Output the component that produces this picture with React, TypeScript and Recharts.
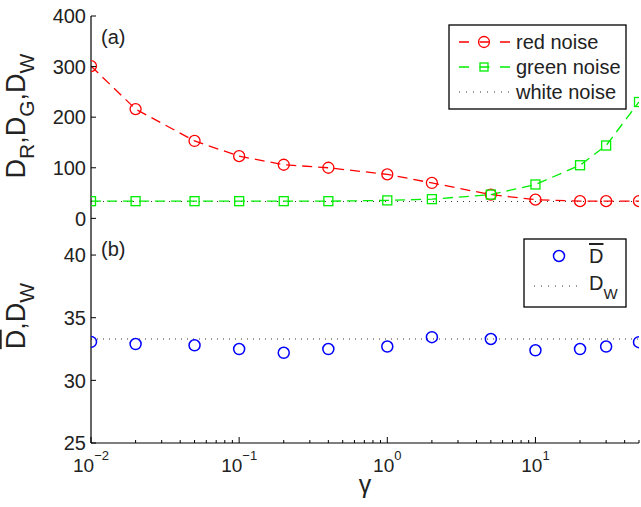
import React from 'react';
import { ComposedChart, Line, Scatter, XAxis, YAxis, ReferenceLine } from 'recharts';

// ---------- data ----------
const gammaValues = [0.01, 0.02, 0.05, 0.1, 0.2, 0.4, 1, 2, 5, 10, 20, 30, 50];
const redNoise = [301, 216, 153, 123, 106, 100, 87, 70, 47, 37, 34, 34, 34];
const greenNoise = [34, 34, 34, 34, 34, 34, 35.5, 38, 47, 67, 105, 144, 230];
const whiteNoise = 33.3;
const dBar = [33.07, 32.9, 32.8, 32.5, 32.2, 32.5, 32.7, 33.45, 33.3, 32.4, 32.5, 32.7, 33.05];
const dW = 33.3;

const xMajorTicks = [0.01, 0.1, 1, 10];
const xAllTicks = [
  0.01, 0.02, 0.03, 0.04, 0.05, 0.06, 0.07, 0.08, 0.09,
  0.1, 0.2, 0.3, 0.4, 0.5, 0.6, 0.7, 0.8, 0.9,
  1, 2, 3, 4, 5, 6, 7, 8, 9,
  10, 20, 30, 40, 50,
];
const topYTicks = [0, 100, 200, 300, 400];
const bottomYTicks = [25, 30, 35, 40];
const xDomain = [0.01, 50];
const topYDomain = [-23, 400];
const bottomYDomain = [25, 42];

const topData = gammaValues.map((g, i) => ({ gamma: g, red: redNoise[i], green: greenNoise[i] }));
const bottomData = gammaValues.map((g, i) => ({ gamma: g, dbar: dBar[i] }));

// ---------- styles ----------
const FONT = '"Liberation Sans", Arial, Helvetica, sans-serif';
const TXT = '#222';
const RED = '#ff0000';
const GREEN = '#00ee00';
const BLUE = '#0000ff';
const AX = { stroke: '#000', strokeWidth: 1.2 };

const isMajor = (v: number) => xMajorTicks.some((m) => Math.abs(m - v) < 1e-9);

const XTick = (props: any) => {
  const { x, y, payload, dir, showLabel } = props;
  const v = payload.value;
  const major = isMajor(v);
  const len = major ? 6 : 3;
  const exp = Math.round(Math.log10(v));
  const expStr = exp < 0 ? '\u2212' + Math.abs(exp) : String(exp);
  return (
    <g>
      <line x1={x} x2={x} y1={y} y2={y + dir * len} stroke="#000" strokeWidth={1} />
      {showLabel && major && (
        <text x={x} y={y + 29} textAnchor="middle" fontSize={19} fill={TXT} fontFamily={FONT}>
          <tspan>10</tspan>
          <tspan dy={-12} fontSize={13}>{expStr}</tspan>
        </text>
      )}
    </g>
  );
};

const YTick = (props: any) => {
  const { x, y, payload, dir, showLabel } = props;
  return (
    <g>
      <line x1={x} x2={x + dir * 5} y1={y} y2={y} stroke="#000" strokeWidth={1} />
      {showLabel && (
        <text x={x - 5} y={y} dy="0.36em" textAnchor="end" fontSize={20} fill={TXT} fontFamily={FONT}>
          {payload.value}
        </text>
      )}
    </g>
  );
};

const SquareDot = (props: any) => {
  const { cx, cy, index } = props;
  if (cx == null || cy == null) return <g key={index} />;
  return (
    <rect key={index} x={cx - 4.5} y={cy - 4.5} width={9} height={9} fill="none" stroke={GREEN} strokeWidth={1.3} />
  );
};

const CircleShape = (props: any) => {
  const { cx, cy } = props;
  return <circle cx={cx} cy={cy} r={5.5} fill="none" stroke={BLUE} strokeWidth={1.5} />;
};

const axesCommon = {
  type: 'number' as const,
  scale: 'log' as const,
  domain: xDomain,
  allowDataOverflow: true,
  ticks: xAllTicks,
  interval: 0,
  tickSize: 0,
  tickMargin: 0,
  tickLine: false,
  height: 0,
};

export default function App() {
  return (
    <div style={{ position: 'absolute', left: 0, top: 0, width: 641, height: 507, background: '#fff', fontFamily: FONT }}>
      {/* top panel */}
      <div style={{ position: 'absolute', left: 0, top: 0 }}>
        <ComposedChart width={641} height={230} data={topData} margin={{ top: 16, right: 2, bottom: 0, left: 0 }}>
          <XAxis xAxisId="b" dataKey="gamma" {...axesCommon} axisLine={AX} tick={<XTick dir={-1} showLabel={false} />} />
          <XAxis xAxisId="t" orientation="top" dataKey="gamma" {...axesCommon} axisLine={AX} tick={<XTick dir={1} showLabel={false} />} />
          <YAxis yAxisId="l" type="number" domain={topYDomain} allowDataOverflow ticks={topYTicks} interval={0}
            width={91} tickSize={0} tickMargin={0} tickLine={false} axisLine={AX} tick={<YTick dir={1} showLabel />} />
          <YAxis yAxisId="r" orientation="right" type="number" domain={topYDomain} allowDataOverflow ticks={topYTicks} interval={0}
            width={0} tickSize={0} tickMargin={0} tickLine={false} axisLine={AX} tick={<YTick dir={-1} showLabel={false} />} />
          <ReferenceLine xAxisId="b" yAxisId="l" y={whiteNoise} stroke="#333" strokeWidth={1} strokeDasharray="1 5" />
          <Line xAxisId="b" yAxisId="l" dataKey="red" stroke={RED} strokeWidth={1.3} strokeDasharray="10 6"
            dot={{ r: 5.5, fill: 'none', stroke: RED, strokeWidth: 1.3, strokeDasharray: 'none' }}
            isAnimationActive={false} />
          <Line xAxisId="b" yAxisId="l" dataKey="green" stroke={GREEN} strokeWidth={1.3} strokeDasharray="10 6"
            dot={<SquareDot />} isAnimationActive={false} />
        </ComposedChart>
      </div>
      {/* bottom panel */}
      <div style={{ position: 'absolute', left: 0, top: 230 }}>
        <ComposedChart width={641} height={277} data={bottomData} margin={{ top: 0, right: 2, bottom: 0, left: 0 }}>
          <XAxis xAxisId="b" dataKey="gamma" {...axesCommon} height={64} axisLine={AX} tick={<XTick dir={-1} showLabel />} />
          <XAxis xAxisId="t" orientation="top" dataKey="gamma" {...axesCommon} axisLine={AX} tick={<XTick dir={1} showLabel={false} />} />
          <YAxis yAxisId="l" type="number" domain={bottomYDomain} allowDataOverflow ticks={bottomYTicks} interval={0}
            width={91} tickSize={0} tickMargin={0} tickLine={false} axisLine={AX} tick={<YTick dir={1} showLabel />} />
          <YAxis yAxisId="r" orientation="right" type="number" domain={bottomYDomain} allowDataOverflow ticks={bottomYTicks} interval={0}
            width={0} tickSize={0} tickMargin={0} tickLine={false} axisLine={AX} tick={<YTick dir={-1} showLabel={false} />} />
          <ReferenceLine xAxisId="b" yAxisId="l" y={dW} stroke="#333" strokeWidth={1} strokeDasharray="1 5" />
          <Scatter xAxisId="b" yAxisId="l" dataKey="dbar" shape={<CircleShape />} isAnimationActive={false} />
        </ComposedChart>
      </div>
      {/* annotations, legends and axis titles */}
      <svg width={641} height={507} style={{ position: 'absolute', left: 0, top: 0, pointerEvents: 'none' }} fontFamily={FONT}>
        <text x={101} y={44} fontSize={20} fill={TXT}>(a)</text>
        <text x={101} y={256} fontSize={20} fill={TXT}>(b)</text>

        {/* top legend */}
        <rect x={449} y={25} width={177} height={84} fill="#fff" stroke="#000" strokeWidth={1.3} />
        <line x1={459} x2={510} y1={42} y2={42} stroke={RED} strokeWidth={1.3} strokeDasharray="10 10.5" />
        <circle cx={484} cy={42} r={5.5} fill="none" stroke={RED} strokeWidth={1.3} />
        <text x={516} y={49} fontSize={20} fill={TXT}>red noise</text>
        <line x1={459} x2={510} y1={67} y2={67} stroke={GREEN} strokeWidth={1.3} strokeDasharray="10 10.5" />
        <rect x={480} y={63} width={8} height={8} fill="none" stroke={GREEN} strokeWidth={1.3} />
        <text x={516} y={74} fontSize={20} fill={TXT}>green noise</text>
        <line x1={459} x2={510} y1={92} y2={92} stroke="#333" strokeWidth={1} strokeDasharray="1 6" />
        <text x={516} y={99} fontSize={20} fill={TXT}>white noise</text>

        {/* bottom legend */}
        <rect x={524} y={239} width={102} height={68} fill="#fff" stroke="#000" strokeWidth={1.3} />
        <circle cx={559} cy={256} r={5.5} fill="none" stroke={BLUE} strokeWidth={1.5} />
        <text x={589} y={263} fontSize={20} fill={TXT}><tspan textDecoration="overline">D</tspan></text>
        <line x1={534} x2={580} y1={286} y2={286} stroke="#333" strokeWidth={1} strokeDasharray="1 6" />
        <text x={589} y={290} fontSize={20} fill={TXT}>D<tspan dy={9} fontSize={15}>W</tspan></text>

        {/* y titles */}
        <text transform="translate(25,116) rotate(-90)" textAnchor="middle" fontSize={27} fill={TXT}>
          D<tspan dy={9} fontSize={21}>R</tspan><tspan dy={-9}>,D</tspan><tspan dy={9} fontSize={21}>G</tspan><tspan dy={-9}>,D</tspan><tspan dy={9} fontSize={21}>W</tspan>
        </text>
        <text transform="translate(25,316) rotate(-90)" textAnchor="middle" fontSize={27} fill={TXT}>
          <tspan textDecoration="overline">D</tspan><tspan>,D</tspan><tspan dy={9} fontSize={21}>W</tspan>
        </text>

        {/* x title */}
        <text x={365} y={493} textAnchor="middle" fontSize={25} fill={TXT}>γ</text>
      </svg>
    </div>
  );
}
